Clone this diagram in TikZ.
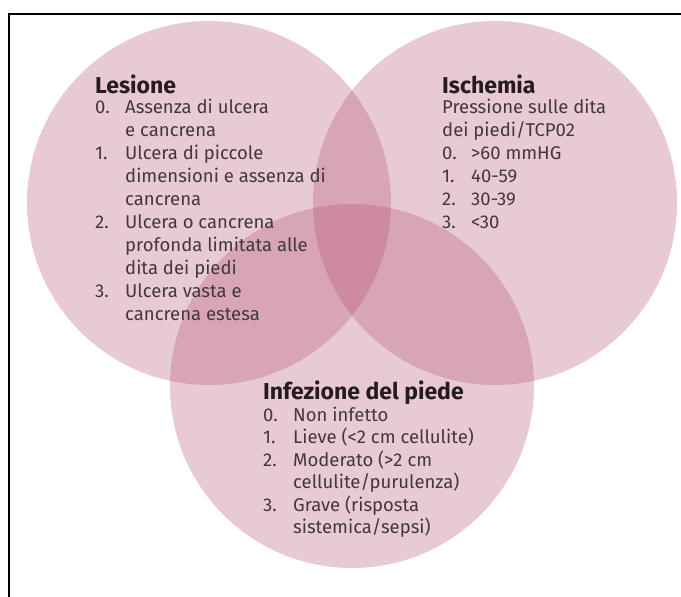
\documentclass[tikz,border=0pt]{standalone}
\usepackage{fontspec}
\setmainfont{Fira Sans}
\usepackage{tikz}
\usetikzlibrary{positioning}
\usepackage{xcolor}
\definecolor{rosa}{RGB}{179,82,112}
\definecolor{testo}{RGB}{66,56,60}
\definecolor{scuro}{RGB}{36,28,31}

\begin{document}
\begin{tikzpicture}[x=1pt,y=-1pt,
  cerchio/.style={fill=rosa,fill opacity=0.3},
  voce/.style={anchor=base west,inner sep=0pt,font=\fontsize{18.5}{22}\selectfont,text=testo},
  titolo/.style={anchor=base west,inner sep=0pt,font=\fontsize{23}{27}\selectfont\bfseries,text=scuro}]
\useasboundingbox (0,0) rectangle (681,597);
\fill[white] (0,0) rectangle (681,597);
\draw[line width=1.5pt] (9,597) -- (9,14) -- (681,14);
\fill[cerchio] (209,203) circle (182pt);
\fill[cerchio] (495,203) circle (182pt);
\fill[cerchio] (352,386) circle (182pt);
\begin{scope}
  \node[titolo] (lesione) at (95,93) {Lesione};
  \foreach \n/\t [count=\i] in {0./Assenza di ulcera, /e cancrena, 1./Ulcera di piccole,
      /dimensioni e assenza di, /cancrena, 2./Ulcera o cancrena, /profonda limitata alle,
      /dita dei piedi, 3./Ulcera vasta e, /cancrena estesa} {
    \node[voce] (les-n\i) at (95,{90+23*\i}) {\n};
    \node[voce] (les-t\i) at (125,{90+23*\i}) {\t};
  }
\end{scope}
\begin{scope}
  \node[titolo] (ischemia) at (442,93) {Ischemia};
  \node[voce] (isc-a) at (442,113) {Pressione sulle dita};
  \node[voce] (isc-b) at (442,136) {dei piedi/TCP02};
  \foreach \n/\t [count=\i] in {0./>60 mmHG, 1./40-59, 2./30-39, 3./<30} {
    \node[voce] (isc-n\i) at (442,{136+23*\i}) {\n};
    \node[voce] (isc-t\i) at (471,{136+23*\i}) {\t};
  }
\end{scope}
\begin{scope}
  \node[titolo] (infezione) at (263,399) {Infezione del piede};
  \foreach \n/\t [count=\i] in {0./Non infetto, 1./Lieve (<2 cm cellulite), 2./Moderato (>2 cm,
      /{cellulite/purulenza)}, 3./Grave (risposta, /{sistemica/sepsi)}} {
    \node[voce] (inf-n\i) at (263,{398.5+22.5*\i}) {\n};
    \node[voce] (inf-t\i) at (293,{398.5+22.5*\i}) {\t};
  }
\end{scope}
\end{tikzpicture}
\end{document}
